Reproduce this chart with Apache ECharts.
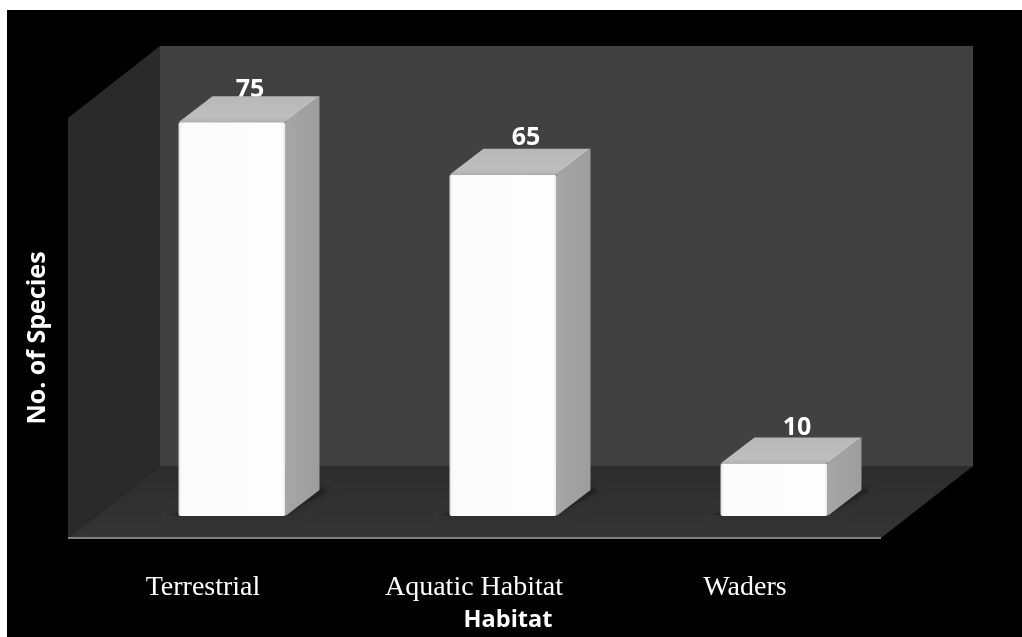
<!DOCTYPE html>
<html>
<head>
<meta charset="utf-8">
<style>
  html, body { margin: 0; padding: 0; background: #fff; width: 1022px; height: 637px; overflow: hidden; }
  #panel { position: absolute; left: 7px; top: 10px; right: 0; bottom: 0; background: #000; }
  #chart { position: absolute; left: 0; top: 0; width: 1022px; height: 637px; }
</style>
</head>
<body>
<div id="panel"></div>
<div id="chart"></div>
<script src="https://cdn.jsdelivr.net/npm/echarts@6/dist/echarts.min.js"></script>
<script>
const categories = ['Terrestrial', 'Aquatic Habitat', 'Waders'];
const speciesCounts = [75, 65, 10];
const xAxisTitle = 'Habitat';
const yAxisTitle = 'No. of Species';

// Oblique projection offsets for the box depth and for the surrounding room
const barDepth = [34, -26];
const roomDepth = [92, -72];
const floorLead = [-28.5, 22];
const barWidthRatio = 107 / 271;
// Hand-placed value labels, relative to the top centre of each box's front face
const labelShift = [[18, -32], [23, -37], [23, -35.5]];

function poly(points, fill) {
  return { type: 'polygon', shape: { points }, style: { fill } };
}

function renderRoom(params) {
  const c = params.coordSys;
  const fx0 = c.x + floorLead[0], fx1 = c.x + c.width + floorLead[0];
  const fy = c.y + c.height + floorLead[1], ty = c.y + floorLead[1];
  const [dx, dy] = roomDepth;
  return {
    type: 'group',
    children: [
      poly([[fx0 + dx, ty + dy], [fx1 + dx, ty + dy], [fx1 + dx, fy + dy], [fx0 + dx, fy + dy]], '#414141'),
      poly([[fx0, ty], [fx0 + dx, ty + dy], [fx0 + dx, fy + dy], [fx0, fy]], '#2a2a2a'),
      poly([[fx0, fy], [fx1, fy], [fx1 + dx, fy + dy], [fx0 + dx, fy + dy]], {
        type: 'linear', x: 0, y: 1, x2: 0, y2: 0,
        colorStops: [{ offset: 0, color: '#343434' }, { offset: 1, color: '#2d2d2d' }]
      }),
      { type: 'line', shape: { x1: fx0, y1: fy, x2: fx1, y2: fy }, style: { stroke: '#808080', lineWidth: 2 } }
    ]
  };
}

function renderBar(params, api) {
  const index = api.value(0);
  const value = api.value(1);
  const centre = api.coord([index, value]);
  const base = api.coord([index, 0]);
  const w = api.size([1, 0])[0] * barWidthRatio;
  const x0 = centre[0] - w / 2, x1 = centre[0] + w / 2;
  const yt = centre[1], yb = base[1];
  const [dx, dy] = barDepth;
  const shift = labelShift[index];
  return {
    type: 'group',
    children: [
      // Soft contact shadow on the floor, kept behind the box
      {
        type: 'polygon',
        shape: { points: [[x0 - 8, yb - 1], [x1, yb - 1], [x1 + dx + 8, yb + dy + 1], [x1 + dx, yb + dy - 4], [x0, yb - 4]] },
        style: { fill: 'rgba(20,20,20,0.35)', shadowBlur: 10, shadowColor: 'rgba(10,10,10,0.7)' }
      },
      {
        type: 'text',
        x: centre[0] + shift[0],
        y: yt + shift[1],
        style: {
          text: String(value),
          fill: '#fff',
          font: 'bold 25px "Open Sans", sans-serif',
          align: 'center',
          verticalAlign: 'middle'
        }
      },
      poly([[x1, yt], [x1 + dx, yt + dy], [x1 + dx, yb + dy], [x1, yb]], {
        type: 'linear', x: 0, y: 0, x2: 1, y2: 0,
        colorStops: [{ offset: 0, color: '#a6a6a6' }, { offset: 1, color: '#9d9d9d' }]
      }),
      poly([[x0, yt], [x0 + dx, yt + dy], [x1 + dx, yt + dy], [x1, yt]], {
        type: 'linear', x: 0, y: 0, x2: 0, y2: 1,
        colorStops: [{ offset: 0, color: '#b8b8b8' }, { offset: 0.8, color: '#bebebe' }, { offset: 1, color: '#b0b0b0' }]
      }),
      {
        type: 'rect',
        shape: { x: x0, y: yt, width: w, height: yb - yt, r: 2 },
        style: {
          fill: {
            type: 'linear', x: 0, y: 0, x2: 1, y2: 0,
            colorStops: [
              { offset: 0, color: '#d8d8d8' }, { offset: 0.025, color: '#fbfbfb' },
              { offset: 0.97, color: '#fdfdfd' }, { offset: 1, color: '#e6e6e6' }
            ]
          }
        }
      }
    ]
  };
}

const chart = echarts.init(document.getElementById('chart'), null, { renderer: 'canvas' });
chart.setOption({
  animation: false,
  backgroundColor: 'transparent',
  grid: { left: 96.5, top: 96, width: 813, height: 420, outerBoundsMode: 'none' },
  xAxis: {
    type: 'category',
    data: categories,
    axisLine: { show: false },
    axisTick: { show: false },
    axisLabel: {
      color: '#fff',
      fontFamily: '"Liberation Serif", serif',
      fontSize: 28,
      margin: 58,
      padding: [0, 58, 0, 0],
      interval: 0
    },
    name: xAxisTitle,
    nameLocation: 'middle',
    nameGap: 92,
    nameMoveOverlap: false,
    nameTextStyle: {
      color: '#fff',
      fontFamily: '"Open Sans", sans-serif',
      fontWeight: 'bold',
      fontSize: 23.5,
      padding: [0, 0, 0, 10]
    }
  },
  yAxis: {
    type: 'value',
    min: 0,
    max: 80,
    axisLine: { show: false },
    axisTick: { show: false },
    axisLabel: { show: false },
    splitLine: { show: false },
    name: yAxisTitle,
    nameLocation: 'middle',
    nameGap: 46,
    nameTextStyle: {
      color: '#fff',
      fontFamily: '"Open Sans", sans-serif',
      fontWeight: 'bold',
      fontSize: 25,
      padding: [0, 64, 0, 0]
    }
  },
  series: [
    { type: 'custom', silent: true, z: 1, data: [[0, 0]], renderItem: renderRoom, clip: false, encode: { x: 0, y: 1 } },
    {
      type: 'custom',
      silent: true,
      z: 2,
      clip: false,
      data: speciesCounts.map((v, i) => [i, v]),
      encode: { x: 0, y: 1 },
      renderItem: renderBar
    }
  ]
});
</script>
</body>
</html>
